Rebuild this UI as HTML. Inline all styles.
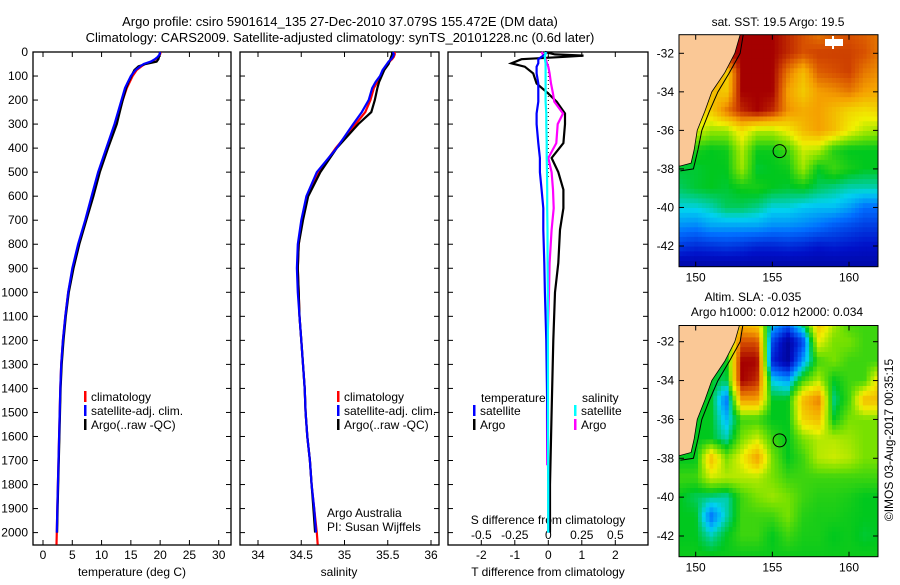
<!DOCTYPE html>
<html><head><meta charset="utf-8"><style>
html,body{margin:0;padding:0;background:#fff;}
svg text{font-family:"Liberation Sans",sans-serif;font-size:12px;fill:#000;}
</style></head><body>
<svg id="chart" xmlns="http://www.w3.org/2000/svg" width="900" height="580" viewBox="0 0 900 580">
<rect width="900" height="580" fill="#fff"/>
<text x="340" y="26" text-anchor="middle" style="font-size:13px">Argo profile: csiro 5901614_135 27-Dec-2010 37.079S 155.472E (DM data)</text>
<text x="340" y="42" text-anchor="middle" style="font-size:13px">Climatology: CARS2009. Satellite-adjusted climatology: synTS_20101228.nc (0.6d later)</text>
<g id="g1"></g>
<g id="g2"></g>
<g id="g3"></g>
<g id="m1"></g>
<g id="m2"></g>
<text x="778" y="26" text-anchor="middle">sat. SST: 19.5 Argo: 19.5</text>
<text x="753" y="301" text-anchor="middle">Altim. SLA: -0.035</text>
<text x="777" y="316" text-anchor="middle">Argo h1000: 0.012 h2000: 0.034</text>
<text transform="translate(893,440) rotate(-90)" text-anchor="middle">©IMOS 03-Aug-2017 00:35:15</text>
</svg>
<script>
// ---- profile data ----
const depths = [0,10,20,30,40,50,60,75,100,125,150,200,250,300,400,500,600,700,800,900,1000,1100,1200,1300,1400,1500,1600,1700,1800,1900,2000];
const tempArgo = [20.0,19.9,19.8,19.7,19.4,17.5,16.3,15.6,15.1,14.6,14.2,13.6,13.1,12.6,11.1,9.7,8.6,7.4,6.2,5.2,4.4,3.9,3.5,3.2,3.0,2.9,2.8,2.7,2.6,2.5,2.4];
const tempClim = [20.1,20.0,19.7,19.2,18.5,17.4,16.8,16.0,15.3,14.8,14.3,13.6,13.0,12.4,10.9,9.5,8.4,7.3,6.1,5.1,4.3,3.8,3.4,3.1,2.95,2.85,2.75,2.65,2.55,2.45,2.35];
const tempSat  = [20.0,19.9,19.6,19.1,18.4,17.2,16.6,15.8,15.0,14.5,14.0,13.4,12.8,12.2,10.8,9.4,8.3,7.2,6.0,5.0,4.3,3.8,3.4,3.1,2.95,2.85,2.75,2.65,2.55,2.45,2.35];
const salArgo = [35.55,35.55,35.54,35.53,35.52,35.51,35.49,35.46,35.43,35.40,35.38,35.35,35.31,35.16,34.91,34.72,34.58,34.52,34.47,34.46,34.47,34.48,34.50,34.52,34.54,34.55,34.57,34.60,34.62,34.64,34.66];
const salClim = [35.58,35.58,35.57,35.55,35.52,35.50,35.48,35.45,35.42,35.38,35.34,35.30,35.24,35.13,34.90,34.70,34.57,34.51,34.47,34.46,34.47,34.48,34.50,34.52,34.54,34.55,34.57,34.60,34.62,34.65,34.68];
const salSat  = [35.56,35.57,35.56,35.54,35.51,35.49,35.47,35.44,35.41,35.36,35.32,35.28,35.20,35.10,34.91,34.68,34.56,34.50,34.46,34.45,34.46,34.48,34.50,34.52,34.54,34.55,34.57,34.60,34.62,34.65,34.67];
const diffDepths = [0,10,15,20,30,47,61,89,131,173,207,256,300,379,441,500,573,650,740,878,1000,1200,1500,1800,2000];
const diffTArgo = [-0.1,0.2,1.05,0.5,-0.8,-1.1,-0.7,-0.45,-0.35,0,0.25,0.5,0.5,0.45,0.1,0.3,0.45,0.45,0.35,0.3,0.2,0.15,0.1,0.05,0.05];
const diffTSat  = [-0.05,-0.1,-0.15,-0.2,-0.3,-0.3,-0.35,-0.35,-0.3,-0.3,-0.3,-0.35,-0.35,-0.3,-0.25,-0.25,-0.2,-0.15,-0.15,-0.12,-0.1,-0.06,-0.03,0,0];
const diffSSat  = [-0.02,-0.02,-0.025,-0.025,-0.025,-0.02,-0.02,-0.02,-0.02,-0.02,-0.02,-0.015,-0.015,-0.012,-0.012,-0.01,-0.008,-0.008,-0.006,-0.005,-0.004,-0.003,-0.002,-0.001,-0.001];
const diffSArgo = [-0.05,-0.04,-0.03,-0.025,-0.02,-0.01,0,0.01,0.02,0.035,0.045,0.11,0.07,0.06,0.0,0.025,0.035,0.04,0.025,0.01,0.005,-0.005,-0.01,-0.008,-0.005];
const depthTicks = [0,100,200,300,400,500,600,700,800,900,1000,1100,1200,1300,1400,1500,1600,1700,1800,1900,2000];
const tempTicks = [0,5,10,15,20,25,30];
const salTicks = [34,34.5,35,35.5,36];
const salTickLabels = ["34","34.5","35","35.5","36"];
const tdTicks = [-2,-1,0,1,2];
const sdTicks = [-0.5,-0.25,0,0.25,0.5];
const sdTickLabels = ["-0.5","-0.25","0","0.25","0.5"];
// ---- map data (cell centres lon 149..162, lat -31..-43) ----
const mapLons = [149,150,151,152,153,154,155,156,157,158,159,160,161,162];
const mapLats = [-31,-32,-33,-34,-35,-36,-37,-38,-39,-40,-41,-42,-43];
const sstGrid = [
[1,1,1,1,1,1,1,0.95,0.9,0.85,0.88,0.9,0.88,0.85],
[1,1,1,1,1,1,1,0.95,0.9,0.92,0.92,0.92,0.9,0.85],
[0.9,0.9,0.9,0.7,1,1,1,0.85,0.75,0.88,0.9,0.92,0.85,0.82],
[0.8,0.8,0.75,0.72,1,1,1,0.8,0.72,0.8,0.82,0.85,0.8,0.78],
[0.75,0.7,0.72,0.85,0.95,1,0.95,0.82,0.78,0.8,0.75,0.7,0.68,0.7],
[0.62,0.64,0.58,0.58,0.68,0.6,0.6,0.66,0.75,0.8,0.75,0.66,0.6,0.58],
[0.45,0.47,0.45,0.46,0.6,0.46,0.46,0.5,0.62,0.6,0.48,0.45,0.45,0.45],
[0.44,0.44,0.45,0.45,0.58,0.44,0.45,0.46,0.58,0.45,0.5,0.47,0.45,0.45],
[0.42,0.44,0.45,0.44,0.46,0.47,0.45,0.44,0.45,0.42,0.4,0.38,0.38,0.38],
[0.36,0.36,0.38,0.42,0.42,0.4,0.36,0.36,0.34,0.33,0.33,0.3,0.25,0.25],
[0.28,0.27,0.3,0.3,0.3,0.3,0.28,0.28,0.27,0.25,0.22,0.2,0.18,0.18],
[0.18,0.16,0.17,0.18,0.17,0.15,0.15,0.16,0.15,0.13,0.14,0.13,0.12,0.12],
[0.07,0.07,0.07,0.07,0.07,0.07,0.07,0.07,0.07,0.07,0.07,0.07,0.07,0.07]];
const slaGrid = [
[.45,.45,.45,.45,.75,.7,.35,.25,.45,.75,.6,.5,.5,.5],
[.45,.45,.45,.45,.9,.9,.2,.05,.2,.65,.55,.55,.5,.5],
[.45,.45,.45,.45,1,1,.15,.05,.3,.5,.55,.5,.5,.5],
[.45,.45,.45,.42,1,.95,.35,.3,.5,.6,.45,.5,.5,.7],
[.45,.45,.45,.25,.8,.8,.45,.45,.75,.85,.4,.5,.75,.75],
[.45,.45,.45,.32,.5,.5,.45,.45,.7,.75,.45,.55,.55,.55],
[.45,.45,.45,.38,.55,.62,.5,.45,.55,.6,.6,.58,.55,.55],
[.45,.45,.75,.55,.65,.8,.55,.45,.5,.6,.62,.6,.55,.55],
[.5,.5,.62,.6,.6,.6,.55,.5,.5,.5,.5,.5,.5,.5],
[.45,.42,.4,.38,.5,.55,.58,.55,.5,.48,.48,.47,.45,.45],
[.45,.45,.25,.38,.5,.5,.5,.55,.48,.47,.47,.46,.45,.45],
[.45,.45,.38,.45,.5,.5,.45,.5,.47,.47,.45,.46,.44,.45],
[.46,.46,.46,.46,.46,.46,.46,.46,.46,.46,.46,.46,.46,.46]];
const landLon = [148.9,152.9,152.55,151.9,151.05,150.6,150.1,149.9,149.7,149.0,148.9];
const landLat = [-31.03,-31.03,-32,-33,-34,-35,-36,-37,-37.7,-37.85,-37.85];
const shelfLon = [153.1,152.9,152.2,151.45,150.9,150.4,150.15,149.85,149.0];
const shelfLat = [-31.03,-32,-33,-34,-35,-36,-37,-38,-38.1];
const floatLon = 155.472, floatLat = -37.079;
const mapLonTicks = [150,155,160];
const mapLatTicks = [-32,-34,-36,-38,-40,-42];

const NS="http://www.w3.org/2000/svg";
function mk(parent,tag,attrs){const e=document.createElementNS(NS,tag);for(const k in attrs)e.setAttribute(k,attrs[k]);parent.appendChild(e);return e;}
function txt(parent,x,y,s,anchor){const t=mk(parent,'text',{x:x,y:y,'text-anchor':anchor||'start'});t.textContent=s;return t;}

const TOP=52, yD=d=>TOP+d*0.2403, BOT=545;
const xT=t=>43+t*5.857, xS=s=>258+(s-34)*86.5, xTd=t=>548.3+t*33.5, xSd=s=>548.3+s*134;

function frame(g,x0,x1,name){
  const r=mk(g,'rect',{x:x0,y:TOP,width:x1-x0,height:BOT-TOP,fill:'none',stroke:'#000','stroke-width':1.3});
  
  
  depthTicks.forEach(d=>{
    mk(g,'line',{x1:x0,x2:x0+5,y1:yD(d),y2:yD(d),stroke:'#000'});
    mk(g,'line',{x1:x1,x2:x1-5,y1:yD(d),y2:yD(d),stroke:'#000'});
  });
}
function xticks(g,vals,labels,fx,ylab){
  vals.forEach((v,i)=>{
    const x=fx(v);
    mk(g,'line',{x1:x,x2:x,y1:BOT,y2:BOT-5,stroke:'#000'});
    mk(g,'line',{x1:x,x2:x,y1:TOP,y2:TOP+5,stroke:'#000'});
    const t=txt(g,x,ylab,labels[i],'middle');
    
    
  });
}
function line(g,xs,ds,fx,color,name){
  const pts=xs.map((v,i)=>fx(v).toFixed(1)+','+yD(ds[i]).toFixed(1)).join(' ');
  const p=mk(g,'polyline',{points:pts,fill:'none',stroke:color,'stroke-width':2.2,'stroke-linejoin':'miter'});
  
  
}
function legend(g,x,y,color,label){
  mk(g,'rect',{x:x,y:y-6,width:2.5,height:11,fill:color});
  const t=txt(g,x+7,y+4,label);
  
  
}

// panel 1
const g1=document.getElementById('g1');
frame(g1,33,231,'temperature');
depthTicks.forEach(d=>{const t=txt(g1,28,yD(d)+4,String(d),'end');
  
  });
xticks(g1,tempTicks,tempTicks.map(String),xT,559);
{const t=txt(g1,132,576,'temperature (deg C)','middle');}
line(g1,tempClim.concat([2.3]),depths.concat([2050]),xT,'#f00','temp-climatology-line');
line(g1,tempArgo,depths,xT,'#000','temp-argo-line');
line(g1,tempSat,depths,xT,'#00f','temp-satellite-line');
legend(g1,84,397,'#f00','climatology');
legend(g1,84,411,'#00f','satellite-adj. clim.');
legend(g1,84,425,'#000','Argo(..raw -QC)');

// panel 2
const g2=document.getElementById('g2');
frame(g2,240,439,'salinity');
xticks(g2,salTicks,salTickLabels,xS,559);
{const t=txt(g2,339,576,'salinity','middle');}
line(g2,salClim.concat([34.69]),depths.concat([2050]),xS,'#f00','sal-climatology-line');
line(g2,salArgo,depths,xS,'#000','sal-argo-line');
line(g2,salSat,depths,xS,'#00f','sal-satellite-line');
legend(g2,337,397,'#f00','climatology');
legend(g2,337,411,'#00f','satellite-adj. clim.');
legend(g2,337,425,'#000','Argo(..raw -QC)');
{const t=txt(g2,327,517,'Argo Australia');
 const u=txt(g2,327,531,'PI: Susan Wijffels');}

// panel 3
const g3=document.getElementById('g3');
frame(g3,448,648,'difference');
xticks(g3,tdTicks,tdTicks.map(String),xTd,559);
sdTicks.forEach((v,i)=>{const t=txt(g3,xSd(v),539,sdTickLabels[i],'middle');});
{const t=txt(g3,548,524,'S difference from climatology','middle');
 const u=txt(g3,548,576,'T difference from climatology','middle');}
mk(g3,'line',{x1:xTd(0),x2:xTd(0),y1:TOP,y2:180,stroke:'#000','stroke-dasharray':'1,3'});
line(g3,diffTArgo,diffDepths,xTd,'#000','t-diff-argo-line');
line(g3,diffSArgo.slice(0,24),diffDepths.slice(0,24).map((d,i)=>i==23?1720:d),xSd,'#f0f','s-diff-argo-line');
line(g3,diffTSat,diffDepths,xTd,'#00f','t-diff-satellite-line');
line(g3,diffSSat,diffDepths,xSd,'#0ff','s-diff-satellite-line');
{const t=txt(g3,481,402,'temperature');
 const u=txt(g3,582,402,'salinity');}
legend(g3,473,411,'#00f','satellite');
legend(g3,473,425,'#000','Argo');
legend(g3,574,411,'#0ff','satellite');
legend(g3,574,425,'#f0f','Argo');

// maps
const stops=[[0,[0,0,128]],[0.12,[0,16,200]],[0.25,[0,110,255]],[0.35,[0,210,240]],[0.45,[0,200,30]],[0.55,[120,225,0]],[0.65,[240,240,0]],[0.8,[245,160,0]],[0.9,[215,80,0]],[1,[165,0,0]]];
function cmap(v){v=Math.max(0,Math.min(1,v));for(let i=1;i<stops.length;i++){if(v<=stops[i][0]){const a=stops[i-1],b=stops[i],f=(v-a[0])/(b[0]-a[0]);const c=a[1].map((x,k)=>Math.round(x+(b[1][k]-x)*f));return 'rgb('+c.join(',')+')';}}return 'rgb(165,0,0)';}
function drawMap(id,grid,x0,x1,yTop,yBot,lat32,pxLat,white){
  const g=document.getElementById(id);
  const lonX=l=>695.7+(l-150)*15.33;
  const latY=l=>lat32+(-32-l)*pxLat;
  const lonMin=148.9,lonMax=161.85,latMax=-31.03,latMin=-43.1;
  const step=0.25;
  const clip=mk(g,'clipPath',{id:id+'clip'});mk(clip,'rect',{x:x0,y:yTop,width:x1-x0,height:yBot-yTop});
  const cg=mk(g,'g',{'clip-path':'url(#'+id+'clip)'});
  for(let la=latMax;la>latMin-step;la-=step){
    for(let lo=lonMin;lo<lonMax+step;lo+=step){
      const cx=lo+step/2, cy=la-step/2;
      let fi=Math.max(0,Math.min(mapLons.length-1.001,cx-mapLons[0]));
      let fj=Math.max(0,Math.min(mapLats.length-1.001,mapLats[0]-cy));
      const i=Math.floor(fi),j=Math.floor(fj),a=fi-i,b=fj-j;
      const v=grid[j][i]*(1-a)*(1-b)+grid[j][i+1]*a*(1-b)+grid[j+1][i]*(1-a)*b+grid[j+1][i+1]*a*b;
      const r=mk(cg,'rect',{x:lonX(lo).toFixed(1),y:latY(la).toFixed(1),width:(step*15.33+0.6).toFixed(1),height:(step*pxLat+0.6).toFixed(1),fill:cmap(v)});
      
      
    }
  }
  const land=mk(cg,'polygon',{points:landLon.map((l,i)=>lonX(l)+','+latY(landLat[i])).join(' '),fill:'#fac896',stroke:'#000','stroke-width':0.8});
  
  
  mk(cg,'polyline',{points:shelfLon.map((l,i)=>lonX(l)+','+latY(shelfLat[i])).join(' '),fill:'none',stroke:'#000','stroke-width':1});
  if(white){mk(cg,'rect',{x:825,y:39,width:18,height:7,fill:'#fff'});mk(cg,'line',{x1:833,x2:833,y1:36,y2:49,stroke:'#fff','stroke-width':2});}
  const c=mk(g,'circle',{cx:lonX(floatLon),cy:latY(floatLat),r:6.5,fill:'none',stroke:'#000','stroke-width':1});
  
  
  mk(g,'rect',{x:x0,y:yTop,width:x1-x0,height:yBot-yTop,fill:'none',stroke:'#000','stroke-width':1});
  mapLonTicks.forEach(l=>{const x=lonX(l);mk(g,'line',{x1:x,x2:x,y1:yBot,y2:yBot-5,stroke:'#000'});mk(g,'line',{x1:x,x2:x,y1:yTop,y2:yTop+5,stroke:'#000'});
    const t=txt(g,x,yBot+15,String(l),'middle');});
  mapLatTicks.forEach(l=>{const y=latY(l);mk(g,'line',{x1:x0,x2:x0+5,y1:y,y2:y,stroke:'#000'});mk(g,'line',{x1:x1,x2:x1-5,y1:y,y2:y,stroke:'#000'});
    const t=txt(g,x0-5,y+4,String(l),'end');});
}
drawMap('m1',sstGrid,679,878,34.7,266.7,53.3,19.27,true);
drawMap('m2',slaGrid,679,878,325.5,556.7,341.7,19.43,false);
</script>
</body></html>
